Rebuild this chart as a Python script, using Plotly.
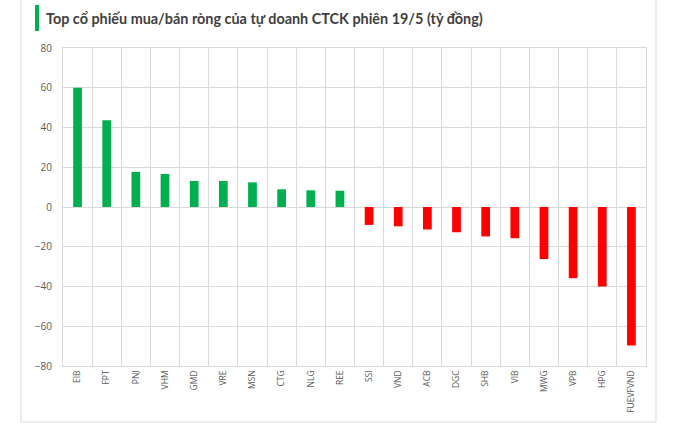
import plotly.graph_objects as go

categories = ["EIB", "FPT", "PNJ", "VHM", "GMD", "VRE", "MSN", "CTG", "NLG", "REE",
              "SSI", "VND", "ACB", "DGC", "SHB", "VIB", "MWG", "VPB", "HPG", "FUEVFVND"]
values = [60.0, 43.7, 17.6, 16.6, 13.1, 13.1, 12.4, 8.9, 8.4, 8.2,
          -9.0, -9.7, -11.3, -12.7, -14.8, -15.7, -26.2, -35.8, -40.0, -69.7]
y_ticks = [-80, -60, -40, -20, 0, 20, 40, 60, 80]
title_text = "Top cổ phiếu mua/bán ròng của tự doanh CTCK phiên 19/5 (tỷ đồng)"

colors = ["#00B050" if v >= 0 else "#FF0000" for v in values]

W, H = 690, 423
L, R, T, B = 63, 44, 48, 57
pw, ph = W - L - R, H - T - B


def px_x(px):
    return (px - L) / pw


def px_y(py):
    return (H - B - py) / ph


fig = go.Figure(go.Bar(x=categories, y=values, marker=dict(color=colors, line=dict(width=0))))

grid = "#D9D9D9"
fig.update_layout(
    width=W, height=H,
    margin=dict(l=L, r=R, t=T, b=B, autoexpand=False),
    paper_bgcolor="white", plot_bgcolor="white",
    bargap=0.7,
    showlegend=False,
    font=dict(family="Open Sans, Arial, sans-serif", color="#595959"),
    xaxis=dict(
        type="category", tickson="boundaries", showgrid=True, gridcolor=grid, gridwidth=1,
        tickangle=-90, tickfont=dict(size=8.5, color="#595959"), ticks="",
        showline=True, linecolor=grid, mirror=True, automargin=False,
    ),
    yaxis=dict(
        range=[-80, 80], tickvals=y_ticks, showgrid=True, gridcolor=grid, gridwidth=1,
        zeroline=False, tickfont=dict(size=10, color="#595959"), ticks="",
        showline=True, linecolor=grid, mirror=True, ticklabelstandoff=8, automargin=False,
    ),
    shapes=[
        dict(type="rect", xref="paper", yref="paper", x0=px_x(35), x1=px_x(39),
             y0=px_y(31), y1=px_y(5), fillcolor="#00B050", line=dict(width=0)),
        dict(type="line", xref="paper", yref="paper", x0=px_x(21), x1=px_x(21),
             y0=px_y(0), y1=px_y(422), line=dict(color=grid, width=1)),
        dict(type="line", xref="paper", yref="paper", x0=px_x(656), x1=px_x(656),
             y0=px_y(0), y1=px_y(422), line=dict(color=grid, width=1)),
        dict(type="line", xref="paper", yref="paper", x0=px_x(21), x1=px_x(656),
             y0=px_y(422), y1=px_y(422), line=dict(color=grid, width=1)),
    ],
    annotations=[
        dict(text="<b>" + title_text + "</b>", xref="paper", yref="paper",
             x=px_x(44), y=px_y(19), xanchor="left", yanchor="middle", showarrow=False,
             font=dict(family="Lato, Open Sans, Arial, sans-serif", size=14.4, color="#404040")),
    ],
)

fig.write_html(
    "out.html",
    config={"displayModeBar": False},
    post_script="document.body.style.margin='0px';document.body.style.overflow='hidden';",
)
